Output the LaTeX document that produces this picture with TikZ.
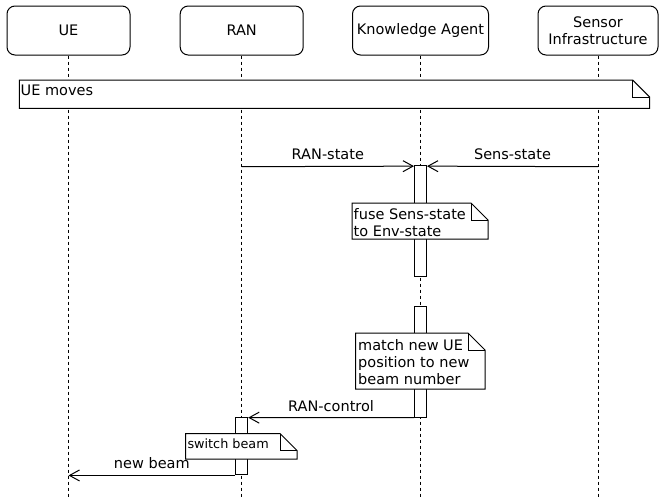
\documentclass[tikz,border=0pt]{standalone}
\usepackage{fontspec}
\setmainfont{DejaVu Sans}
\usetikzlibrary{arrows.meta}
\tikzset{
  basefont/.style={font=\fontsize{14.5}{16.8}\selectfont},
  actor/.style={draw, rounded corners=8pt, line width=1pt, minimum width=123pt,
    minimum height=49pt, align=center, inner sep=0pt, basefont},
  lifeline/.style={dash pattern=on 3pt off 3pt, line width=1pt},
  actbox/.style={draw, fill=white, minimum width=12pt, inner sep=0pt, line width=1pt},
  msg/.style={-{Straight Barb[length=10pt,width=11pt]}, line width=1pt},
  lbl/.style={basefont, anchor=base, yshift=6.5pt, inner sep=0pt},
  notetext/.style={align=left, inner sep=0pt, basefont},
  noteshape/.style={draw, fill=white, line width=1pt, line join=miter},
}
\newcommand\drawnotebox[4]{%
  \draw[noteshape] (#1,#2) -- ({#3-17},#2) -- (#3,{#2+17}) -- (#3,#4) -- (#1,#4) -- cycle;
  \draw[line width=1pt] ({#3-17},#2) -- ({#3-17},{#2+17}) -- (#3,{#2+17});
}
\begin{document}
\begin{tikzpicture}[x=1pt,y=-1pt]
\useasboundingbox (0,0) rectangle (659,498);
% actors
\node[actor] (ue) at (68.5,30.5) {UE};
\node[actor] (ran) at (241.7,30.5) {RAN};
\node[actor, minimum width=136pt] (ka) at (420.5,30.5) {Knowledge Agent};
\node[actor, minimum width=120pt] (si) at (598,30.5) {Sensor\\Infrastructure};
% lifelines
\draw[lifeline] (ue.south) -- ++(0,443);
\draw[lifeline] (ran.south) -- ++(0,443);
\draw[lifeline] (ka.south) -- ++(0,443);
\draw[lifeline] (si.south) -- ++(0,443);
% UE moves note
\drawnotebox{19.3}{80}{649.7}{108.3}
\node[basefont, inner sep=0pt, anchor=base west] (uem) at (20.5,95) {UE moves};
% activations
\node[actbox, minimum height=111.3pt] (a1) at (420.5,221.3) {};
\node[actbox, minimum height=111pt] (a2) at (420.5,361.5) {};
\node[actbox, minimum height=57.3pt] (a3) at (241.7,446.3) {};
% messages
\coordinate (rs) at (241.7,166.7);
\coordinate (ss) at (si.south |- rs);
\draw[msg] (rs) -- ([yshift=-1pt]a1.north west) node[lbl, midway] {RAN-state};
\draw[msg] (ss) -- ([yshift=-1pt]a1.north east) node[lbl, midway] {Sens-state};
\draw[msg] (a2.south west) -- ([yshift=-0.5pt]a3.north east) node[lbl, midway] {RAN-control};
\coordinate (nb) at (ue.south |- a3.south);
\draw[msg] (a3.south west) -- (nb) node[lbl, midway] {new beam};
% notes
\drawnotebox{352}{203}{488}{239}
\node[notetext, anchor=north west] (n1) at (353.5,208) {fuse Sens-state\\to Env-state};
\drawnotebox{355.7}{333}{485}{389}
\node[notetext, anchor=north west] (n2) at (358,339.7) {match new UE\\position to new\\beam number};
\drawnotebox{185.7}{433.5}{297}{459}
\node[inner sep=0pt, anchor=base west, font=\fontsize{12.8}{15}\selectfont] (n3) at (187.3,448.3) {switch beam};
\end{tikzpicture}
\end{document}
